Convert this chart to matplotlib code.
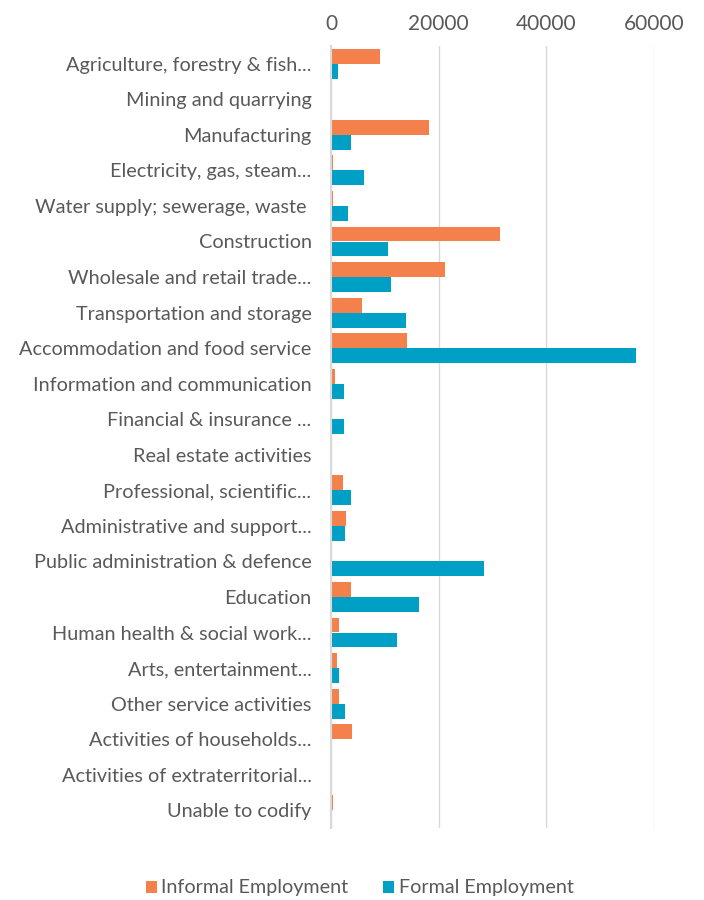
import matplotlib
matplotlib.use("Agg")
import matplotlib.pyplot as plt
import numpy as np

categories = [
    "Agriculture, forestry & fish...",
    "Mining and quarrying",
    "Manufacturing",
    "Electricity, gas, steam...",
    "Water supply; sewerage, waste ",
    "Construction",
    "Wholesale and retail trade...",
    "Transportation and storage",
    "Accommodation and food service",
    "Information and communication",
    "Financial & insurance ...",
    "Real estate activities",
    "Professional, scientific...",
    "Administrative and support...",
    "Public administration & defence",
    "Education",
    "Human health & social work...",
    "Arts, entertainment...",
    "Other service activities",
    "Activities of households...",
    "Activities of extraterritorial...",
    "Unable to codify",
]
informal = [9100, 150, 18200, 350, 350, 31400, 21200, 5750, 14100, 750, 100, 150,
            2200, 2800, 50, 3700, 1500, 1100, 1500, 3900, 0, 350]
formal = [1300, 50, 3700, 6100, 3150, 10600, 11100, 13900, 56600, 2400, 2400, 0,
          3700, 2600, 28400, 16300, 12300, 1500, 2600, 250, 200, 0]
xticks = [0, 20000, 40000, 60000]

plt.rcParams['font.family'] = ['Lato', 'DejaVu Sans']
text_color = "#595959"
c_inf = "#F4804C"
c_for = "#00A0C6"

fig = plt.figure(figsize=(7.04, 9.0), dpi=100)
ax = fig.add_axes([331/704, 1-828/900, (654-331)/704, (828-46)/900])

y = np.arange(len(categories))
h = 0.42
ax.barh(y - h/2, informal, height=h, color=c_inf, label="Informal Employment", zorder=3)
ax.barh(y + h/2, formal, height=h, color=c_for, label="Formal Employment", zorder=3)

ax.set_ylim(len(categories) - 0.5, -0.5)
ax.set_xlim(0, 60000)
ax.set_yticks(y)
ax.set_yticklabels(categories, fontsize=14.3, color=text_color)
ax.set_xticks(xticks)
ax.set_xticklabels([str(v) for v in xticks], fontsize=15, color=text_color)
ax.xaxis.tick_top()
ax.tick_params(axis='both', length=0)
ax.tick_params(axis='y', pad=14)
ax.tick_params(axis='x', pad=9)
ax.grid(axis='x', color="#d9d9d9", linewidth=1, zorder=0)
for s in ["top", "right", "bottom"]:
    ax.spines[s].set_visible(False)
ax.spines["left"].set_color("#d9d9d9")
ax.spines["left"].set_linewidth(1.5)
ax.spines["left"].set_zorder(4)

fig.legend(loc="center", bbox_to_anchor=(0.511, 1-888/900), ncol=2, frameon=False,
           fontsize=14.2, handlelength=0.56, handleheight=0.56, handletextpad=0.22,
           columnspacing=1.75, labelcolor=text_color)

fig.savefig("out.png", dpi=100)
